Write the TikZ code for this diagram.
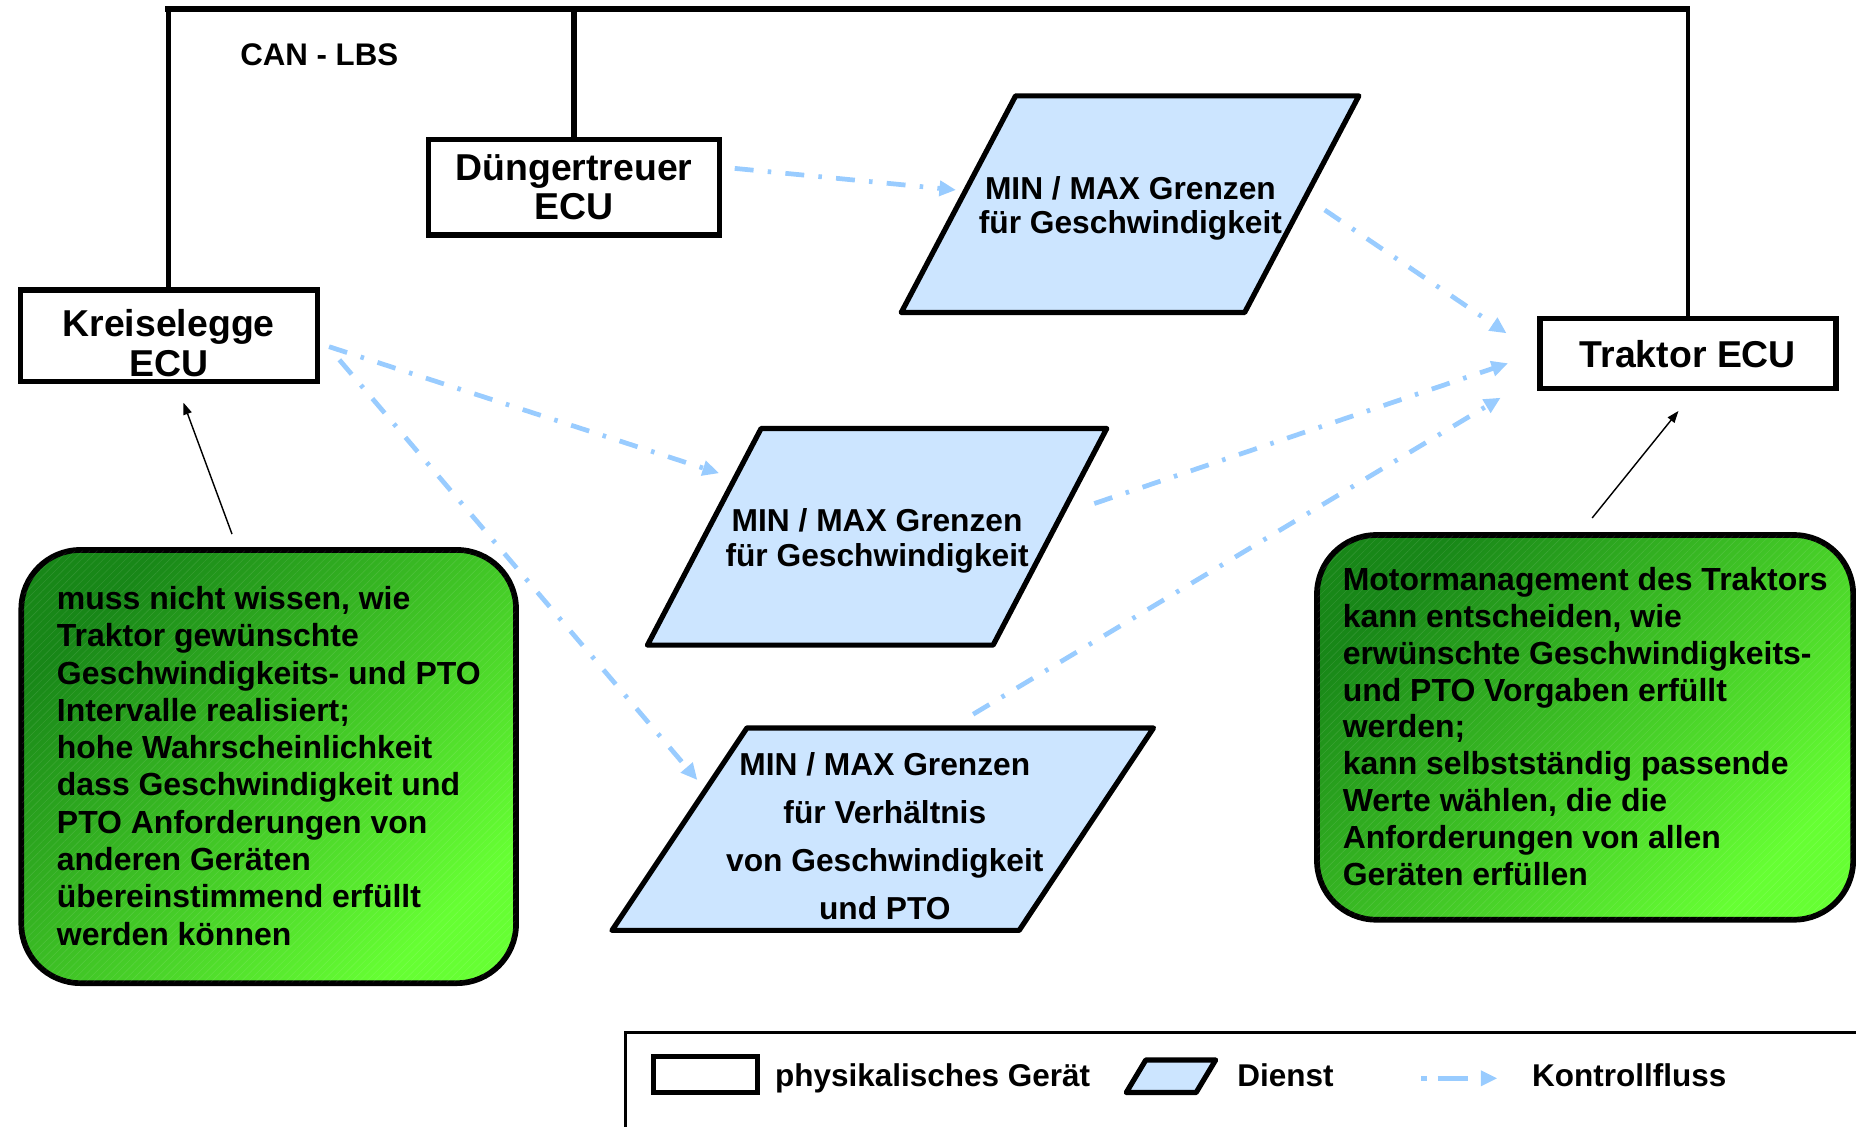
\documentclass[tikz,border=0pt]{standalone}
\usepackage{fontspec}
\setmainfont{Liberation Sans}
\usetikzlibrary{arrows.meta,patterns.meta,calc}
\definecolor{svcblue}{RGB}{204,229,255}
\definecolor{flowblue}{RGB}{153,204,255}
\definecolor{gdark}{RGB}{24,135,24}
\definecolor{gbright}{RGB}{102,255,51}
\begin{document}
\begin{tikzpicture}[x=0.5pt,y=-0.5pt,
  devbox/.style={draw, line width=2.2pt, inner sep=0pt, fill=white},
  devtext/.style={font=\fontsize{15.8}{16.75}\selectfont\bfseries, align=center, inner sep=0pt},
  svcshape/.style={draw, line width=2.2pt, fill=svcblue, line join=round},
  svctext/.style={font=\fontsize{13.4}{14.5}\selectfont\bfseries, align=center, inner sep=0pt, anchor=north},
  notebox/.style={draw, line width=2.4pt, rounded corners=25pt, inner sep=0pt,
    top color=gdark, bottom color=gbright, shading angle=45},
  notehatch/.style={opacity=0.1, pattern={Lines[angle=45,distance=2.2pt,line width=0.25pt]}, pattern color=white, rounded corners=25pt},
  notetext/.style={font=\fontsize{13.5}{15.75}\selectfont\bfseries, align=left, inner sep=0pt, anchor=north west},
  captext/.style={font=\fontsize{13.3}{15}\selectfont\bfseries, inner sep=0pt, anchor=base west},
  busline/.style={line width=2.8pt},
  dropline/.style={line width=2pt},
  flow/.style={draw=flowblue, line width=2pt, dash pattern=on 8pt off 6pt on 1.5pt off 6pt, -{Triangle[length=7pt,width=6.3pt]}},
  pointer/.style={draw, line width=0.6pt, -{Triangle[length=5pt,width=3.6pt]}}
]
\useasboundingbox (0,0) rectangle (1568,952);

% device boxes
\node[devbox, minimum width=125.5pt, minimum height=38.5pt] (kreis) at (142.5,283.5) {};
\node[devbox, minimum width=123pt, minimum height=40.25pt] (dung) at (485,158.25) {};
\node[devbox, minimum width=125pt, minimum height=29.5pt] (trak) at (1426,298.5) {};

% CAN bus
\coordinate (busy) at (0,7.6);
\draw[dropline] (kreis.north) -- (kreis.north |- busy);
\draw[dropline] (trak.north) -- (trak.north |- busy);
\draw[busline] (dung.north) -- (dung.north |- busy);
\draw[busline] ([xshift=-1.5pt]kreis.north |- busy) -- ([xshift=1pt]trak.north |- busy);
\node[captext, font=\fontsize{13.2}{15}\selectfont\bfseries] (can) at (202.6,55.5) {CAN - LBS};

% device texts
\node[devtext, anchor=north] (dungtext) at (485,130) {Düngertreuer\\ECU};
\node[devtext, anchor=north] (kreistext) at (142.5,261) {Kreiselegge\\ECU};
\node[devtext, anchor=base] (traktext) at (1426,310.5) {Traktor ECU};

% services
\coordinate (p1) at (954.9,172.5);
\coordinate (p2) at (741,453.5);
\coordinate (p3) at (745.9,700.5);
\draw[svcshape] (858,81) -- (1148,81) -- (1051.5,264) -- (761.4,264) -- cycle;
\draw[svcshape] (643,362) -- (935,362) -- (839,545) -- (547,545) -- cycle;
\draw[svcshape] (631,615) -- (974.5,615) -- (861,786) -- (517,786) -- cycle;
\node[svctext] (p1text) at (955,148.5) {MIN / MAX Grenzen\\für Geschwindigkeit};
\node[svctext] (p2text) at (741,429.5) {MIN / MAX Grenzen\\für Geschwindigkeit};
\node[svctext, font=\fontsize{13.4}{20.3}\selectfont\bfseries] (p3text) at (747.5,635.5) {MIN / MAX Grenzen\\für Verhältnis\\von Geschwindigkeit\\und PTO};

% notes
\node[notebox, minimum width=209pt, minimum height=183pt] (gl) at (227,647.6) {};
\node[notebox, minimum width=226.5pt, minimum height=162.5pt] (gr) at (1339.1,614.5) {};
\fill[notehatch] ([shift={(3,3)}]gl.north west) rectangle ([shift={(-3,-3)}]gl.south east);
\fill[notehatch] ([shift={(3,3)}]gr.north west) rectangle ([shift={(-3,-3)}]gr.south east);
\node[notetext] (gltext) at (47.7,495) {muss nicht wissen, wie\\Traktor gewünschte\\Geschwindigkeits- und PTO\\Intervalle realisiert;\\hohe Wahrscheinlichkeit\\dass Geschwindigkeit und\\PTO Anforderungen von\\anderen Geräten\\übereinstimmend erfüllt\\werden können};
\node[notetext, font=\fontsize{13.5}{15.6}\selectfont\bfseries] (grtext) at (1134,478.7) {Motormanagement des Traktors\\kann entscheiden, wie\\erwünschte Geschwindigkeits-\\und PTO Vorgaben erfüllt\\werden;\\kann selbstständig passende\\Werte wählen, die die\\Anforderungen von allen\\Geräten erfüllen};

% pointers
\draw[pointer] ([shift={(-31,-11)}]gl.north) -- ([shift={(12.5,16)}]kreis.south);
\draw[pointer] ([shift={(6,-12)}]gr.north) -- ([shift={(-8,17)}]trak.south);

% control flow
\draw[flow] ([shift={(10.5,-16)}]dung.east) -- ([shift={(-147.25,-12)}]p1);
\draw[flow] ([shift={(164.25,4.9)}]p1) -- ([shift={(-26,-16.9)}]trak.west);
\draw[flow] ([shift={(7.8,9.4)}]kreis.east) -- ([shift={(-133.5,-53.7)}]p2);
\draw[flow] ([shift={(16.5,20.5)}]kreis.east) -- ([shift={(-156.75,-41.5)}]p3);
\draw[flow] ([shift={(183.5,-28.1)}]p2) -- ([shift={(-24.7,8.4)}]trak.west);
\draw[flow] ([shift={(76.25,-97.1)}]p3) -- ([shift={(-31,37.5)}]trak.west);

% legend
\draw[line width=1.15pt] (1580,872.4) -| (528.5,965);
\node[devbox, minimum width=44pt, minimum height=15.15pt] (legdev) at (596,908) {};
\node[captext] (legdevtext) at (654.5,917.5) {physikalisches Gerät};
\draw[svcshape] (968,895.5) -- (1027,895.5) -- (1010.5,923) -- (951.5,923) -- cycle;
\node[captext] (legsvctext) at (1045,917.5) {Dienst};
\coordinate (la1) at (1200.5,911);
\coordinate (la2) at (1265,911);
\draw[flow, dash pattern=on 2.5pt off 4.5pt on 13pt off 10pt] (la1) -- (la2);
\node[captext] (legflowtext) at (1294,917.5) {Kontrollfluss};
\end{tikzpicture}
\end{document}
